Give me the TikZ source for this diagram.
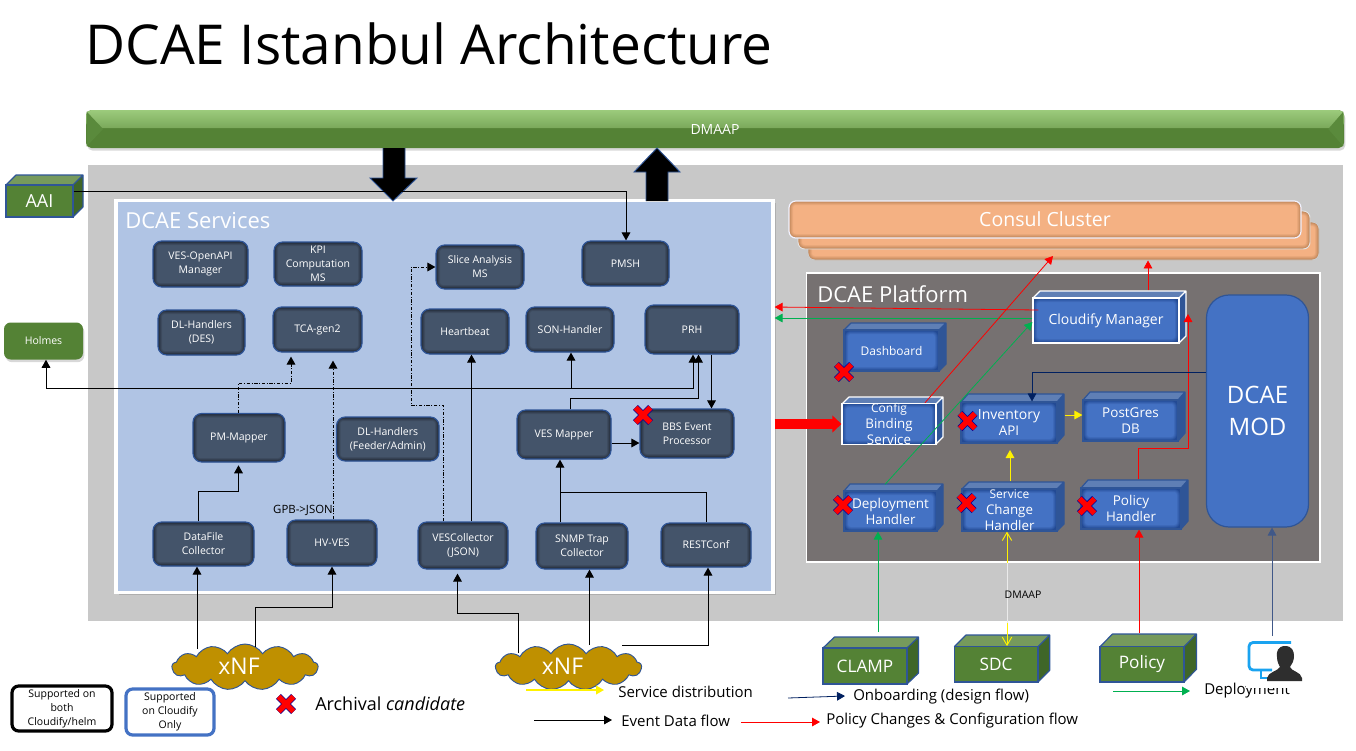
\documentclass[tikz,border=0pt]{standalone}
\usepackage{fontspec}
\setmainfont{Open Sans}
\usetikzlibrary{arrows.meta,shapes.symbols,shadows,calc}
\newcommand\fs[2]{\fontsize{\fpeval{#1*0.75}pt}{\fpeval{#2*0.75}pt}\selectfont}
\definecolor{frameG}{HTML}{C8C8C8}
\definecolor{svcF}{HTML}{44546A}
\definecolor{svcL}{HTML}{2F5597}
\definecolor{svcBg}{HTML}{B0C4E4}
\definecolor{platF}{HTML}{767171}
\definecolor{grF}{HTML}{548235}
\definecolor{grT}{HTML}{769A5C}
\definecolor{grS}{HTML}{3F6628}
\definecolor{grL}{HTML}{2F5597}
\definecolor{blF}{HTML}{4472C4}
\definecolor{blT}{HTML}{5F7FB5}
\definecolor{blS}{HTML}{2F5597}
\definecolor{blL}{HTML}{2F5597}
\definecolor{whF}{HTML}{4472C4}
\definecolor{whT}{HTML}{5F7FB5}
\definecolor{whS}{HTML}{2F5597}
\definecolor{whL}{HTML}{FFFFFF}
\definecolor{conF}{HTML}{F4B183}
\definecolor{conD}{HTML}{8A5A30}
\definecolor{gold}{HTML}{BF9000}
\definecolor{navy}{HTML}{002060}
\definecolor{grn}{HTML}{00B050}
\definecolor{iconB}{HTML}{1AA3F0}
\definecolor{barTop}{HTML}{9CCB7C}
\definecolor{barBev}{HTML}{5A8A3C}
\tikzset{
  x=0.75pt,y=-0.75pt,
  >={Triangle[length=6pt,width=6.5pt]},
  glow/.style={path picture={\foreach \w/\o in {8/.10,6/.12,4/.16,2/.2}{\draw[#1,opacity=\o,line width=\w*0.75pt,rounded corners=5pt](path picture bounding box.south west) rectangle (path picture bounding box.north east);}}},
  svcbox/.style={draw=svcL,line width=0.9pt,fill=svcF,rounded corners=6.5pt,glow=black,text=white,align=center,inner sep=0pt,font=\fs{10.5}{14}},
  grbox/.style={},
  blbox/.style={glow=navy},
  whbox/.style={glow=navy},
  flow/.style={->,black,line width=0.75pt},
  dashflow/.style={->,black,line width=0.75pt,dash pattern=on 2.5pt off 1.2pt on 0.8pt off 1.2pt},
  redflow/.style={->,red,line width=0.6pt},
  grnflow/.style={->,grn,line width=0.6pt},
  navyflow/.style={->,navy,line width=0.6pt},
  yelflow/.style={->,yellow,line width=0.7pt},
  lbl/.style={inner sep=0pt,font=\fs{15}{17}},
  xmark/.pic={
    \draw[line width=5.2pt,blue!60!black] (-7.6,-7.6)--(7.6,7.6) (-7.6,7.6)--(7.6,-7.6);
    \draw[line width=4pt,red] (-7.4,-7.4)--(7.4,7.4) (-7.4,7.4)--(7.4,-7.4);
  }
}
\newcommand\svc[6]{\node[svcbox,minimum width=\fpeval{(#4-#2)*0.75}pt,minimum height=\fpeval{(#5-#3)*0.75}pt] (#1) at ({(#2+#4)/2},{(#3+#5)/2}) {#6};}
\newcommand\boxthree[8]{%
  \fill[#8T] (#2,#3)--({#2+#6},{#3-#7})--({#4+#6},{#3-#7})--(#4,#3)--cycle;
  \fill[#8S] (#4,#3)--({#4+#6},{#3-#7})--({#4+#6},{#5-#7})--(#4,#5)--cycle;
  \draw[#8L,line width=0.9pt,line join=round] (#2,#3)--({#2+#6},{#3-#7})--({#4+#6},{#3-#7})--({#4+#6},{#5-#7})--(#4,#5) (#4,#3)--({#4+#6},{#3-#7});
  \boxfront{#1}{#2}{#3}{#4}{#5}{#8}}
\newcommand\boxfront[7]{\node[draw=#6L,line width=0.9pt,fill=#6F,#6box,text=white,align=center,inner sep=0pt,minimum width=\fpeval{(#4-#2)*0.75}pt,minimum height=\fpeval{(#5-#3)*0.75}pt] (#1) at ({(#2+#4)/2},{(#3+#5)/2}) {#7};}
\begin{document}
\begin{tikzpicture}
\useasboundingbox (0,0) rectangle (1356,750);
\fill[white] (0,0) rectangle (1356,750);
% title
\node[inner sep=0pt,anchor=base west,font=\fs{55}{60}] (title) at (85,64.5) {DCAE Istanbul Architecture};
% frame
\fill[frameG] (88,165) rectangle (1343,621);
% services
\node[draw=white,line width=2.4pt,fill=svcBg,drop shadow={shadow xshift=2pt,shadow yshift=-2pt,opacity=.35},minimum width=\fpeval{657*0.75}pt,minimum height=\fpeval{392*0.75}pt,inner sep=0pt] (services) at (444.5,396.5) {};
\node[inner sep=0pt,anchor=west,text=white,font=\fs{22}{24}] (servt) at (125,221) {DCAE Services};
% DMaaP
\node[fill=grF,rounded corners=4pt,minimum width=\fpeval{1258*0.75}pt,minimum height=\fpeval{38*0.75}pt,inner sep=0pt,drop shadow={shadow xshift=1pt,shadow yshift=-2pt,opacity=.3},
  path picture={\shade[top color=barTop,bottom color=grF] (path picture bounding box.north west) rectangle ($(path picture bounding box.north east)+(0,18)$);}
  ] (dmaap) at (715,129) {};
\fill[barBev] ([shift={(1,2)}]dmaap.north west)--([xshift=13pt]dmaap.west)--([shift={(1,-2)}]dmaap.south west)--cycle;
\fill[barBev] ([shift={(-1,2)}]dmaap.north east)--([xshift=-12pt]dmaap.east)--([shift={(-1,-2)}]dmaap.south east)--cycle;
\node[text=white,inner sep=0pt,font=\fs{14}{16}] (dmaapt) at (715,129) {DMAAP};
% Consul
\node[draw=black!20,line width=0.7pt,fill=conF,rounded corners=5pt,glow=conD,minimum width=\fpeval{511*0.75}pt,minimum height=\fpeval{38*0.75}pt,inner sep=0pt] (consulc) at (1063.5,241) {};
\node[draw=black!10,line width=0.7pt,fill=conF,rounded corners=5pt,glow=conD,minimum width=\fpeval{512*0.75}pt,minimum height=\fpeval{38*0.75}pt,inner sep=0pt] (consulb) at (1054,230) {};
\node[draw=blue!5,line width=0.9pt,fill=conF,rounded corners=5pt,glow=conD,minimum width=\fpeval{512*0.75}pt,minimum height=\fpeval{37*0.75}pt,inner sep=0pt,text=white,font=\fs{19.5}{22}] (consul) at (1045,219.5) {Consul Cluster};
% platform
\node[draw=white,line width=0.9pt,fill=platF,minimum width=\fpeval{513.5*0.75}pt,minimum height=\fpeval{289*0.75}pt,inner sep=0pt] (platform) at (1063.25,417.5) {};
\node[inner sep=0pt,anchor=west,text=white,font=\fs{22}{24}] (platt) at (817,294) {DCAE Platform};
% service boxes
\svc{vesapi}{153}{241}{248}{287}{VES-OpenAPI\\Manager}
\svc{kpi}{274}{242}{362}{286}{KPI\\Computation\\MS}
\svc{dldes}{158}{310}{245}{355}{DL-Handlers\\(DES)}
\svc{tca}{273}{307}{362}{352}{TCA-gen2}
\svc{slice}{436}{245}{524}{289}{Slice Analysis\\MS}
\svc{pmsh}{582}{241}{669}{286}{PMSH}
\svc{hb}{421}{309}{509}{354}{Heartbeat}
\svc{son}{526}{307}{614}{352}{SON-Handler}
\svc{prh}{645}{305}{739}{354}{PRH}
\svc{vesm}{517}{410}{611}{459}{VES Mapper}
\svc{bbs}{640}{409}{734}{458}{BBS Event\\Processor}
\svc{dlf}{336.5}{417}{439}{461}{DL-Handlers\\(Feeder/Admin)}
\svc{pm}{193}{413.5}{285}{462}{PM-Mapper}
\svc{df}{153}{522}{254}{566}{DataFile\\Collector}
\svc{hv}{287}{520}{377}{566}{HV-VES}
\svc{vc}{418}{522}{508}{569}{VESCollector\\(JSON)}
\svc{snmp}{536}{523}{628}{569}{SNMP  Trap\\Collector}
\svc{rc}{661}{523}{751}{567}{RESTConf}
% left side
\boxthree{aai}{6}{185}{73}{217}{10}{10}{gr}{\fs{18}{20}AAI}
\node[fill=grF,rounded corners=5pt,minimum width=\fpeval{79*0.75}pt,minimum height=\fpeval{37*0.75}pt,inner sep=0pt,text=white,font=\fs{10.5}{12},drop shadow={shadow xshift=1pt,shadow yshift=-2pt,opacity=.3}] (holmes) at (43.5,341) {Holmes};
% platform boxes
\boxthree{cm}{1033}{298}{1179}{343}{7}{7}{wh}{\fs{14}{17}Cloudify Manager}
\boxthree{dash}{844}{330}{939}{371}{7}{7}{bl}{\fs{12}{15}Dashboard}
\boxthree{cbs}{842}{404}{936}{444}{7}{7}{wh}{\fs{12}{15.5}Config\\Binding\\Service}
\boxthree{inv}{961}{402}{1057}{443}{7}{8}{bl}{\fs{14}{18}Inventory\\API}
\boxthree{pg}{1083}{400}{1178}{441}{7}{8}{bl}{\fs{13.5}{18}PostGres\\DB}
\boxthree{dep}{844}{491}{937}{531}{6}{7}{bl}{\fs{13.5}{18}Deployment\\Handler}
\boxthree{sch}{962}{489}{1057}{531}{7}{7}{bl}{\fs{12}{15.5}Service\\Change\\Handler}
\boxthree{ph}{1081}{488}{1181}{529}{7}{8}{bl}{\fs{13.5}{18}Policy\\Handler}
\node[draw=blL,line width=0.9pt,fill=blF,rounded corners=17pt,minimum width=\fpeval{102*0.75}pt,minimum height=\fpeval{232*0.75}pt,inner sep=0pt,text=white,align=center,font=\fs{24}{32}] (mod) at (1257.5,411) {DCAE\\MOD};
% bottom boxes
\boxthree{clamp}{823}{648}{907}{684}{11.5}{11}{gr}{\fs{17.2}{20}CLAMP}
\boxthree{sdc}{954.3}{646.7}{1038}{682}{11.7}{11.7}{gr}{\fs{17.2}{20}SDC}
\boxthree{pol}{1100}{646.7}{1184}{682}{12.5}{12.7}{gr}{\fs{17.2}{20}Policy}
% legend texts
\node[lbl,anchor=west] (ltsd) at (618,692) {Service distribution};
\node[lbl,anchor=west] (ltob) at (853,697) {Onboarding (design flow)};
\node[lbl,anchor=west] (ltdp) at (1204,691) {Deployment};
\node[lbl,anchor=west] (ltev) at (621,721) {Event Data flow};
\node[lbl,anchor=west] (ltpc) at (826,721) {Policy Changes \& Configuration flow};
% user icon
\fill[white] (1246,639) rectangle (1303,688);
\draw[iconB,line width=2.1pt,rounded corners=3pt] (1291,642.5)--(1249,642.5)--(1249,670)--(1272,670);
\draw[iconB,line width=1.8pt] (1261,671)--(1261,678)--(1269,678);
\fill[black!82] (1285,646) .. controls (1278,646) and (1276,652) .. (1277,657) .. controls (1277,662) and (1279,665) .. (1280,667) .. controls (1278,671) and (1268,672) .. (1267,678) -- (1267,681) -- (1302,681) -- (1302,678) .. controls (1301,672) and (1291,671) .. (1290,667) .. controls (1292,664) and (1294,661) .. (1294,656) .. controls (1294,651) and (1292,646) .. (1285,646) -- cycle;
\coordinate (usr) at (1272,636);
% clouds
\node[cloud,cloud puffs=13,cloud puff arc=115,aspect=3.2,draw=svcL,line width=0.7pt,fill=gold,minimum width=\fpeval{146*0.75}pt,minimum height=\fpeval{46*0.75}pt,inner sep=0pt] (xnfa) at (245,667) {};
\node[inner sep=0pt,text=white,font=\fs{23}{25}] (xnfat) at (239,666) {xNF};
\node[cloud,cloud puffs=13,cloud puff arc=115,aspect=3.2,draw=svcL,line width=0.7pt,fill=gold,minimum width=\fpeval{146*0.75}pt,minimum height=\fpeval{46*0.75}pt,inner sep=0pt] (xnfb) at (568.5,667) {};
\node[inner sep=0pt,text=white,font=\fs{23}{25}] (xnfbt) at (562.5,666) {xNF};
\coordinate (xa1) at (197,649);
\coordinate (xa2) at (255,647);
\coordinate (xb1) at (518,653);
\coordinate (xb2) at (589.5,645);
\coordinate (xb3) at (622,645);
% fat arrows
\fill[black] (383,148)--(405,148)--(405,178)--(417,178)--(393,201)--(370,178)--(383,178)--cycle;
\draw[svcL,line width=0.7pt] (383,148)--(383,178)--(370,178)--(393,201)--(417,178)--(405,178)--(405,148);
\fill[black] (646,201)--(668,201)--(668,172)--(680,172)--(657,148)--(634,172)--(646,172)--cycle;
\draw[svcL,line width=0.7pt] (646,201)--(646,172)--(634,172)--(657,148)--(680,172)--(668,172)--(668,201);
\draw[red,line width=6.8pt] (services.east |- cbs.west) -- ([xshift=-6pt]cbs.west);
\fill[red] ([xshift=-6.75pt,yshift=6.4pt]cbs.west)--(cbs.west)--([xshift=-6.75pt,yshift=-6.4pt]cbs.west)--cycle;
% black connectors
\draw[flow] (aai.east |- 0,191) -- (626,191) -- (pmsh.north -| 626,0);
\draw[flow,<->] (holmes.south -| 46,0) -- (46,388) -- (693,388) -- (prh.south -| 693,0);
\draw[flow] (571,388) -- (son.south -| 571,0);
\draw[flow] (vesm.north -| 570,0) -- (570,398) -- (698.5,398) -- (prh.south -| 698.5,0);
\draw[flow] (prh.south -| 711.5,0) -- (bbs.north -| 711.5,0);
\draw[flow] (vesm.east |- 0,443) -- (bbs.west |- 0,443);
\draw[flow] (snmp.north -| 560,0) -- (vesm.south -| 560,0);
\draw[black,line width=0.75pt] (rc.north -| 706,0) -- (706,492) -- (560,492);
\draw[flow] (vc.north -| 471.5,0) -- (hb.south -| 471.5,0);
\draw[dashflow] (vc.north -| 443,0) -- (443,405.5) -- (411,405.5) -- (411,267) -- (slice.west |- 0,267);
\draw[dashflow,shorten >=6pt] (hv.north -| 333,0) -- (tca.south -| 333,0);
\draw[dashflow,shorten >=3pt] (pm.north -| 238.5,0) -- (238.5,383) -- (291,383) -- (tca.south -| 291,0);
\draw[flow,shorten >=2pt] (df.north -| 198,0) -- (198,491) -- (238.5,491) -- (pm.south -| 238.5,0);
\draw[flow] (xa1) -- (df.south -| 197,0);
\draw[flow] (xa2) -- (255,607) -- (332,607) -- (hv.south -| 332,0);
\draw[flow,shorten >=3pt] (xb1) -- (518,613) -- (457.5,613) -- (vc.south -| 457.5,0);
\draw[flow] (xb2) -- (snmp.south -| 589.5,0);
\draw[flow] (xb3) -- (708,645) -- (rc.south -| 708,0);
\node[inner sep=0pt,anchor=east,font=\fs{11.4}{13}] (gpb) at (333,510) {GPB->JSON};
% platform connectors
\draw[redflow] (cm.west |- 0,310) ++(6,0) -- (services.east |- 0,307);
\draw[grnflow] (cm.west |- 0,318) -- (services.east |- 0,318);
\draw[redflow] (cbs.north -| 925,0) -- (1053,256);
\draw[grnflow] (dep.north -| 885,0) ++(0,-6) -- (cm.west |- 0,322);
\draw[redflow] (cm.north -| 1148,0) ++(0,-7) -- (consulc.south -| 1148,0);
\draw[redflow] (ph.north -| 1138,0) ++(0,-8) -- (1138,448) -- (1188,448) -- (1188,314);
\draw[navyflow] (mod.west |- 0,372) -- (1032,372) -- (inv.north -| 1032,0);
\draw[yelflow] (inv.east |- 0,415) ++(7,0) -- (pg.west |- 0,415);
\draw[yelflow] (sch.north -| 1010,0) ++(0,-7) -- (1010,450);
\draw[yellow,line width=0.7pt,{Straight Barb[length=6pt,width=7pt]}-{Straight Barb[length=6pt,width=7pt]}] (sch.south -| 1007,0) -- (sdc.north -| 1007,0);
\draw[white!92!black,line width=0.7pt] (1007,563) -- (1007,623);
\node[inner sep=0pt,font=\fs{10.5}{12}] (dmt) at (1023,595) {DMAAP};
\coordinate (clampt) at (878,632);
\draw[grnflow] (clampt) -- (dep.south -| 878,0);
\draw[redflow] (pol.north -| 1139,0) ++(0,-12.7) -- (ph.south -| 1139,0);
\draw[navyflow,navy!75!white] (usr) -- (mod.south -| 1272,0);
% red marks
\path (643,415) pic {xmark};
\path (844,372) pic {xmark};
\path (967.5,421) pic {xmark};
\path (843,505) pic {xmark};
\path (966.5,503) pic {xmark};
\path (1087,506) pic {xmark};
\path (286,704) pic {xmark};
% legends
\node[draw=black,line width=2.4pt,rounded corners=5pt,minimum width=\fpeval{100*0.75}pt,minimum height=\fpeval{45*0.75}pt,inner sep=0pt,align=center,font=\fs{10.5}{14}] (leg1) at (62,708.5) {Supported on\\both\\Cloudify/helm};
\node[draw=blF,line width=2.4pt,rounded corners=5pt,minimum width=\fpeval{88*0.75}pt,minimum height=\fpeval{46*0.75}pt,inner sep=0pt,align=center,font=\fs{10.5}{14}] (leg2) at (170,712) {Supported\\on Cloudify\\Only};
\node[inner sep=0pt,anchor=west,font=\fs{18}{20}] (arch) at (315,704) {Archival \textit{candidate}};
% legend arrows
\coordinate (a1) at (526,690); \coordinate (a2) at (604,690);
\draw[yellow,->,line width=1.2pt] (a1) -- (a2);
\coordinate (b1) at (788,698); \coordinate (b2) at (845,696);
\draw[navyflow] (b1) -- (b2);
\coordinate (c1) at (1113,691); \coordinate (c2) at (1190,691);
\draw[grnflow] (c1) -- (c2);
\coordinate (d1) at (534,720); \coordinate (d2) at (612,720);
\draw[flow] (d1) -- (d2);
\coordinate (e1) at (741,722); \coordinate (e2) at (820,722);
\draw[redflow] (e1) -- (e2);
\end{tikzpicture}
\end{document}
